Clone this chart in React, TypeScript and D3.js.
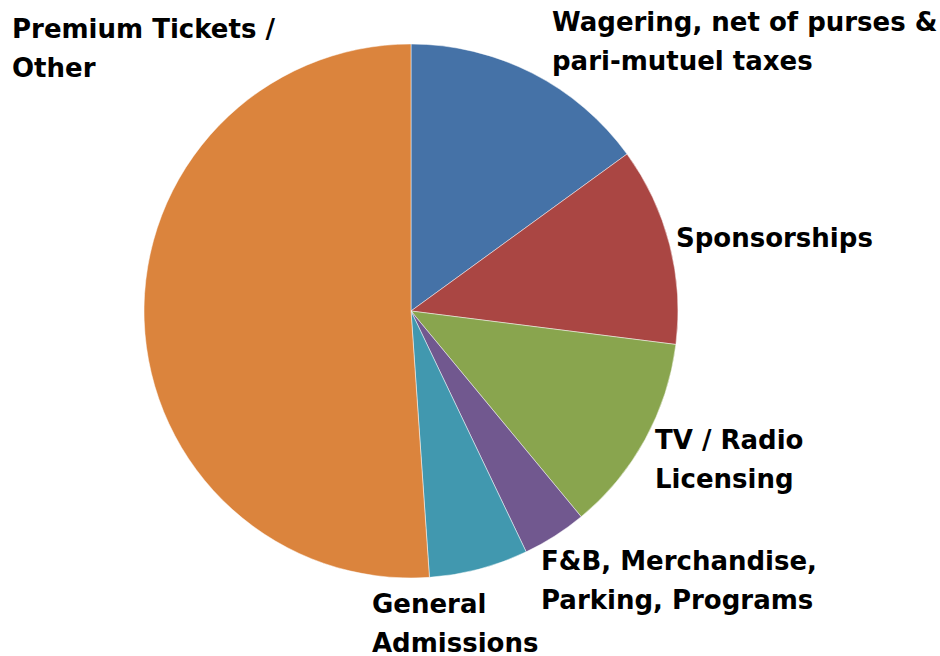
import { useEffect, useRef } from 'react';
import * as d3 from 'd3';

const categories = [
  'Wagering',
  'Sponsorships',
  'TV / Radio Licensing',
  'F&B, Merchandise, Parking, Programs',
  'General Admissions',
  'Premium Tickets / Other',
];
const shares = [15.0, 12.0, 12.0, 3.9, 6.0, 51.1];
const colors = ['#4572A7', '#AA4643', '#89A54E', '#71588F', '#4198AF', '#DB843D'];

// label lines with anchor (left x, first baseline)
const labelLines = [
  ['Wagering, net of purses &', 'pari-mutuel taxes'],
  ['Sponsorships'],
  ['TV / Radio', 'Licensing'],
  ['F&B, Merchandise,', 'Parking, Programs'],
  ['General', 'Admissions'],
  ['Premium Tickets /', 'Other'],
];
const labelPos = [
  [552, 31],
  [676, 247],
  [655, 449],
  [541, 570],
  [372, 613],
  [12, 38],
];

export default function App() {
  const svgRef = useRef<SVGSVGElement>(null);

  useEffect(() => {
    if (!svgRef.current) return;
    const width = 940;
    const height = 656;
    const cx = 411;
    const cy = 311;
    const radius = 267;

    const svg = d3.select(svgRef.current).attr('width', width).attr('height', height);
    svg.selectAll('*').remove();

    svg.append('rect').attr('width', width).attr('height', height).attr('fill', '#fff');

    const pie = d3
      .pie<number>()
      .sort(null)
      .value((d) => d)
      .startAngle(0)
      .endAngle(2 * Math.PI);
    const arc = d3.arc<d3.PieArcDatum<number>>().innerRadius(0).outerRadius(radius);

    const g = svg.append('g').attr('transform', `translate(${cx},${cy})`);
    g.selectAll('path')
      .data(pie(shares))
      .enter()
      .append('path')
      .attr('d', arc)
      .attr('fill', (_, i) => colors[i])
      .attr('stroke', '#ffffff')
      .attr('stroke-opacity', 0.6)
      .attr('stroke-width', 0.8)
      .append('title')
      .text((d, i) => `${categories[i]}: ${d.data}%`);

    // Labels
    const labels = svg
      .selectAll('.label')
      .data(labelLines)
      .enter()
      .append('text')
      .attr('class', 'label')
      .attr('font-family', '"DejaVu Sans", sans-serif')
      .attr('font-weight', 'bold')
      .attr('font-size', '26px')
      .attr('fill', '#000');

    labels
      .selectAll('tspan')
      .data((d, i) => d.map((line, j) => ({ line, j, i })))
      .enter()
      .append('tspan')
      .attr('x', (d) => labelPos[d.i][0])
      .attr('y', (d) => labelPos[d.i][1] + d.j * 38.5)
      .text((d) => d.line);
  }, []);

  return (
    <div style={{ position: 'absolute', left: 0, top: 0 }}>
      <svg ref={svgRef} style={{ display: 'block' }}></svg>
    </div>
  );
}
